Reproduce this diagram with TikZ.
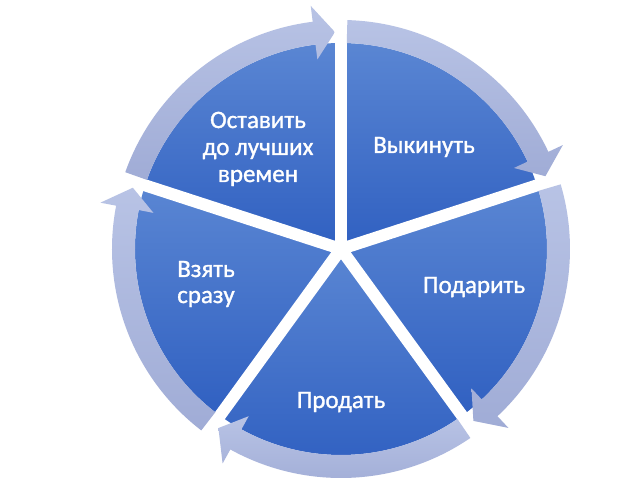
\documentclass[tikz,border=0pt]{standalone}
\usepackage{fontspec}
\setmainfont{Carlito}
\newfontfamily\lblfont{Carlito}[RawFeature={embolden=1.2}]
\definecolor{slicetop}{HTML}{5A86D3}
\definecolor{slicebot}{HTML}{3060C1}
\definecolor{ringtop}{HTML}{B8C3E5}
\definecolor{ringbot}{HTML}{A0ACD6}
\tikzset{
  wedgefill/.style={top color=slicetop, bottom color=slicebot, draw=none},
  ringfill/.style={top color=ringtop, bottom color=ringbot, draw=none},
  gapline/.style={draw=white, line width=12pt},
  lbl/.style={text=white, font=\lblfont\fontsize{25}{27}\selectfont, inner sep=0pt, anchor=base}
}
\newcommand\cyclearrow[2]{%
  \pgfmathsetmacro\aS{#1-1.6}%
  \pgfmathsetmacro\aT{#2+1.6}%
  \pgfmathsetmacro\aB{#2+1.6+5.5}%
  \path[ringfill] (\aS:229pt) arc[start angle=\aS, end angle=\aB, radius=229pt]
    -- (\aB:245pt) -- (\aT:217pt) -- (\aB:191pt) -- (\aB:206pt)
    arc[start angle=\aB, end angle=\aS, radius=206pt] -- cycle;
}
\newcommand\cyclewedge[2]{%
  \path[wedgefill] (0,0) -- (#1:206pt) arc[start angle=#1, end angle=#2, radius=206pt] -- cycle;
}
\begin{document}
\begin{tikzpicture}[x=1pt,y=1pt]
  \useasboundingbox (-341,-251) rectangle (299,249);
  \fill[white] (-341,-251) rectangle (299,249);
  % slices
  \cyclewedge{90}{18}
  \cyclewedge{18}{-54}
  \cyclewedge{-54}{-126}
  \cyclewedge{-126}{-198}
  \cyclewedge{162}{90}
  % gaps
  \foreach \g in {90,18,-54,-126,162}
    \draw[gapline] (0,0) -- (\g:215pt);
  % ring arrows (clockwise)
  \cyclearrow{90}{18}
  \cyclearrow{18}{-54}
  \cyclearrow{-54}{-126}
  \cyclearrow{-126}{-198}
  \cyclearrow{162}{90}
  % labels
  \node[lbl] (t1a) at (-83,121) {Оставить};
  \node[lbl] (t1b) at (-83,94) {до лучших};
  \node[lbl] (t1c) at (-83,67) {времен};
  \node[lbl] (t2) at (83,96) {Выкинуть};
  \node[lbl] (t3) at (133,-44) {Подарить};
  \node[lbl] (t4) at (0,-159) {Продать};
  \node[lbl] (t5a) at (-135,-28) {Взять};
  \node[lbl] (t5b) at (-135,-54) {сразу};
\end{tikzpicture}
\end{document}
